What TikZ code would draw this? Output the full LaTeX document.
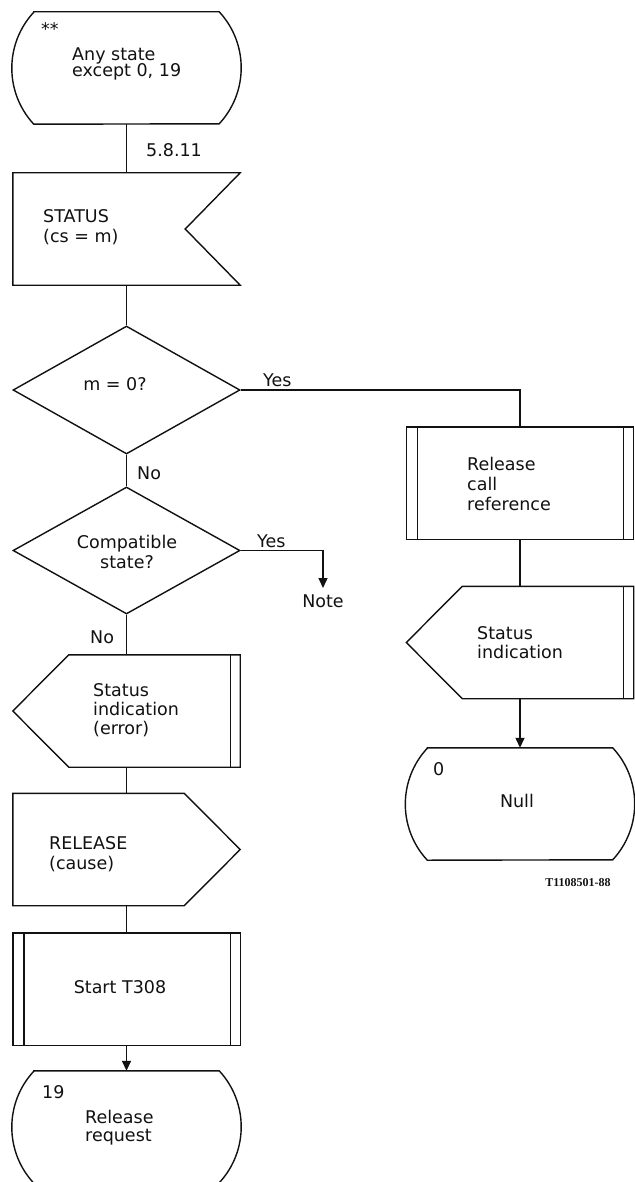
\documentclass[tikz,border=0pt]{standalone}
\usepackage{fontspec}
\setmainfont{DejaVu Sans}
\newfontfamily\tagfont{Liberation Serif}
\usetikzlibrary{arrows.meta,calc,shapes.geometric}
\definecolor{sdlink}{HTML}{111111}
\newcommand\sdlfont[1]{\fontsize{17.5}{#1}\selectfont\lineskiplimit=-\maxdimen}
\tikzset{
  sdl text/.style={font=\sdlfont{20}, text=sdlink, inner sep=0pt, anchor=north west, align=left},
  sdl line/.style={draw=sdlink, line width=1.4pt, line join=miter},
  sdl arrow/.style={sdl line, -{Triangle[length=10pt,width=9pt]}},
  sdl frame/.style={draw=none, inner sep=0pt, minimum width=227pt, minimum height=112pt},
  sdl state/.style={sdl frame, minimum width=229pt,
    append after command={\pgfextra{\draw[sdl line]
      ([xshift=22pt]\tikzlastnode.north west) -- ([xshift=-22pt]\tikzlastnode.north east)
      arc[start angle=-42.9, end angle=42.9, radius=82.27]
      -- ([xshift=22pt]\tikzlastnode.south west)
      arc[start angle=137.1, end angle=222.9, radius=82.27] -- cycle;}}},
  sdl input/.style={sdl frame,
    append after command={\pgfextra{\draw[sdl line]
      (\tikzlastnode.north west) -- (\tikzlastnode.north east)
      -- ([xshift=-55pt]\tikzlastnode.east) -- (\tikzlastnode.south east)
      -- (\tikzlastnode.south west) -- cycle;}}},
  sdl output/.style={sdl frame,
    append after command={\pgfextra{\draw[sdl line]
      (\tikzlastnode.north west) -- ([xshift=-56pt]\tikzlastnode.north east)
      -- (\tikzlastnode.east) -- ([xshift=-56pt]\tikzlastnode.south east)
      -- (\tikzlastnode.south west) -- cycle;}}},
  sdl signal/.style={sdl frame,
    append after command={\pgfextra{\draw[sdl line]
      ([xshift=56pt]\tikzlastnode.north west) -- (\tikzlastnode.north east)
      -- (\tikzlastnode.south east) -- ([xshift=56pt]\tikzlastnode.south west)
      -- (\tikzlastnode.west) -- cycle;
      \draw[sdl line] ([xshift=-10pt]\tikzlastnode.north east) -- ([xshift=-10pt]\tikzlastnode.south east);}}},
  sdl task/.style={sdl frame,
    append after command={\pgfextra{\draw[sdl line]
      (\tikzlastnode.north west) rectangle (\tikzlastnode.south east);
      \draw[sdl line] ([xshift=11pt]\tikzlastnode.north west) -- ([xshift=11pt]\tikzlastnode.south west);
      \draw[sdl line] ([xshift=-10pt]\tikzlastnode.north east) -- ([xshift=-10pt]\tikzlastnode.south east);}}},
  sdl decision/.style={shape=diamond, sdl line, inner sep=0pt, minimum width=227pt, minimum height=128pt}
}
\begin{document}
\begin{tikzpicture}[x=1pt, y=-1pt]
  \useasboundingbox (0,0) rectangle (634,1182);
  % left column
  \node[sdl state] (anystate) at (126.5,68) {};
  \node[sdl text] (anystar) at (41,22) {**};
  \node[sdl text, font=\sdlfont{15.5}] (anytxt) at (72,48) {Any state\\except 0, 19};
  \node[sdl text] (seclabel) at (146,143) {5.8.11};
  \node[sdl input] (status) at (126.5,229) {};
  \node[sdl text] (statustxt) at (43,209) {STATUS\\(cs = m)};
  \node[sdl decision] (zero) at (126.5,390) {};
  \node[sdl text, anchor=north] (zerotxt) at (115,377) {m = 0?};
  \node[sdl text] (zeroyes) at (263,374) {Yes};
  \node[sdl text] (zerono) at (137,467) {No};
  \node[sdl decision, minimum height=127pt] (compat) at (126.5,550.5) {};
  \node[sdl text, anchor=north, align=center] (compattxt) at (127,535) {Compatible\\state?};
  \node[sdl text] (compatyes) at (257,535) {Yes};
  \node[sdl text, anchor=north] (note) at (323,595) {Note};
  \coordinate (notetip) at (323,588);
  \node[sdl text] (compatno) at (90,631) {No};
  \node[sdl signal] (errind) at (126.5,711) {};
  \node[sdl text, font=\sdlfont{19}] (errindtxt) at (93,683) {Status\\indication\\(error)};
  \node[sdl output] (relmsg) at (126.5,849.5) {};
  \node[sdl text] (relmsgtxt) at (49,836) {RELEASE\\(cause)};
  \node[sdl task] (timer) at (126.5,989) {};
  \node[sdl text, anchor=north] (timertxt) at (120,980) {Start T308};
  \node[sdl state] (relreq) at (126.5,1127) {};
  \node[sdl text] (relreqnum) at (42,1085) {19};
  \node[sdl text, font=\sdlfont{18}] (relreqtxt) at (85,1110) {Release\\request};
  % right column
  \node[sdl task] (callref) at (520,483) {};
  \node[sdl text] (callreftxt) at (467,457) {Release\\call\\reference};
  \node[sdl signal] (stind) at (520,642.5) {};
  \node[sdl text, font=\sdlfont{19}] (stindtxt) at (477,626) {Status\\indication};
  \node[sdl state] (null) at (520,804) {};
  \node[sdl text] (nullnum) at (433,762) {0};
  \node[sdl text, anchor=north] (nulltxt) at (517,794) {Null};
  \node[font=\tagfont\bfseries\fontsize{12}{14}\selectfont, text=sdlink, anchor=base] (figtag) at (578,886) {T1108501-88};
  % connectors
  \draw[sdl line] (anystate) -- (status);
  \draw[sdl line] (status) -- (zero);
  \draw[sdl line] (zero) -- (compat);
  \draw[sdl line] (compat) -- (errind);
  \draw[sdl line] (errind) -- (relmsg);
  \draw[sdl line] (relmsg) -- (timer);
  \draw[sdl arrow] (timer) -- (relreq);
  \draw[sdl line] (zero.east) -| (callref);
  \draw[sdl arrow] (compat.east) -| (notetip);
  \draw[sdl line] (callref) -- (stind);
  \draw[sdl arrow] (stind) -- (null);
\end{tikzpicture}
\end{document}
